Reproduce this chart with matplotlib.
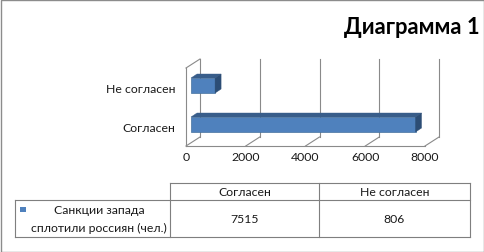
import matplotlib
matplotlib.use('Agg')
import matplotlib.pyplot as plt
from matplotlib.patches import Polygon, Rectangle
import numpy as np

# ---- data ----
categories = ['Согласен', 'Не согласен']
values = [7515, 806]
series_name = ['Санкции запада', 'сплотили россиян (чел.)']
title = 'Диаграмма 1'
xticks = [0, 2000, 4000, 6000, 8000]
xtick_labels = ['0', '2000', '4000', '6000', '8000']

plt.rcParams['font.family'] = ['Lato', 'DejaVu Sans']

W, H = 485, 253
fig = plt.figure(figsize=(W / 100, H / 100), dpi=100)

# overlay axes in pixel coordinates for layout items (frame, title, table)
ov = fig.add_axes([0, 0, 1, 1])
ov.set_xlim(0, W)
ov.set_ylim(H, 0)
ov.axis('off')

grid_c = '#8A8A8A'
txt_c = '#1A1A1A'
fs = 8.8

# outer frame
ov.add_patch(Rectangle((0.5, 0.5), W - 1, H - 1, fill=False, ec='#8C8C8C', lw=1.0))

# title
ov.text(480, 27, title, ha='right', va='center', fontsize=15.8, fontweight='bold', color='black')

# main plot axes (front plane of the 3D box)
ax = fig.add_axes([186 / W, (H - 147) / H, 239 / W, 78 / H])
xlo, xhi = 0, 8000
ylo, yhi = -0.474, 1.526
ax.set_xlim(xlo, xhi)
ax.set_ylim(ylo, yhi)
ax.axis('off')


def px2data(px, py):
    p0 = ax.transData.transform((0, 0))
    p1 = ax.transData.inverted().transform(p0 + np.array([px, py]))
    return p1[0], p1[1]


dx, dy = px2data(14, 9)      # depth of the box
bx, by = px2data(5, 3)       # bar plane offset
ddx, ddy = px2data(6, 4)     # bar depth

lw = 0.8
# back wall gridlines
for t in xticks:
    ax.plot([t + dx, t + dx], [ylo + dy, yhi + dy], color=grid_c, lw=lw, clip_on=False)
    # floor diagonals
    ax.plot([t, t + dx], [ylo, ylo + dy], color=grid_c, lw=lw, clip_on=False)
# floor front edge
ax.plot([xlo, xhi], [ylo, ylo], color=grid_c, lw=lw, clip_on=False)
# side wall
ax.plot([xlo, xlo], [ylo, yhi], color=grid_c, lw=lw, clip_on=False)
ax.plot([xlo, xlo + dx], [yhi, yhi + dy], color=grid_c, lw=lw, clip_on=False)

# bars
h = 0.385
ypos = np.arange(len(categories))
front_c = '#4F81BD'
top_c = '#385D8A'
side_c = '#2C4D75'
for yi, v in zip(ypos, values):
    yc = yi + by
    ax.barh(yc, v, left=bx, height=h, color=front_c, edgecolor='#46729F', lw=0.5, clip_on=False, zorder=3)
    top = yc + h / 2
    bot = yc - h / 2
    ax.add_patch(Polygon([(bx, top), (bx + v, top), (bx + v + ddx, top + ddy), (bx + ddx, top + ddy)],
                         closed=True, fc=top_c, ec=top_c, lw=0.3, clip_on=False, zorder=3))
    ax.add_patch(Polygon([(bx + v, bot), (bx + v, top), (bx + v + ddx, top + ddy), (bx + v + ddx, bot + ddy)],
                         closed=True, fc=side_c, ec=side_c, lw=0.3, clip_on=False, zorder=3))

# category labels
for yi, c in zip(ypos, categories):
    ax.annotate(c, xy=(xlo, yi), xytext=(-11, 0), textcoords='offset pixels',
                ha='right', va='center', fontsize=fs, color=txt_c, annotation_clip=False)

# tick labels
for t, lab in zip(xticks, xtick_labels):
    ax.annotate(lab, xy=(t, ylo), xytext=(0, -11), textcoords='offset pixels',
                ha='center', va='center', fontsize=fs, color=txt_c, annotation_clip=False)

# ---- data table ----
tc = '#7F7F7F'
tlw = 0.8
x0, x1, x2, x3 = 15, 170, 319, 470
y0, y1, y2 = 184, 201, 238
ov.plot([x1, x3], [y0, y0], color=tc, lw=tlw)
ov.plot([x0, x3], [y1, y1], color=tc, lw=tlw)
ov.plot([x0, x3], [y2, y2], color=tc, lw=tlw)
ov.plot([x0, x0], [y1, y2], color=tc, lw=tlw)
for xx in (x1, x2, x3):
    ov.plot([xx, xx], [y0, y2], color=tc, lw=tlw)

col_centers = [(x1 + x2) / 2, (x2 + x3) / 2]
for cx, c, v in zip(col_centers, categories, values):
    ov.text(cx, (y0 + y1) / 2, c, ha='center', va='center', fontsize=fs, color=txt_c)
    ov.text(cx, (y1 + y2) / 2, str(v), ha='center', va='center', fontsize=fs, color=txt_c)

ov.add_patch(Rectangle((20, 207.5), 6, 5, fc=front_c, ec='none'))
ov.text(99, 211, series_name[0], ha='center', va='center', fontsize=fs, color=txt_c)
ov.text(99, 228, series_name[1], ha='center', va='center', fontsize=fs, color=txt_c)

fig.savefig('out.png', dpi=100)
